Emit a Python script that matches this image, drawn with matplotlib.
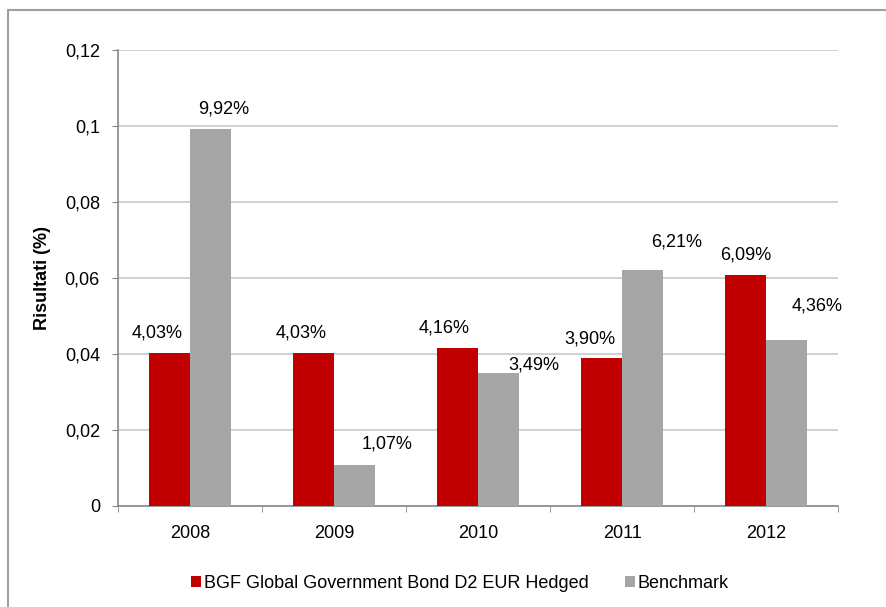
import numpy as np
import matplotlib
matplotlib.use("Agg")
from matplotlib import pyplot as plt
from matplotlib.patches import Rectangle

plt.rcParams["font.family"] = ["Liberation Sans", "DejaVu Sans"]

# Data
years = ["2008", "2009", "2010", "2011", "2012"]
fund = [0.0403, 0.0403, 0.0416, 0.0390, 0.0609]
benchmark = [0.0992, 0.0107, 0.0349, 0.0621, 0.0436]
fund_labels = ["4,03%", "4,03%", "4,16%", "3,90%", "6,09%"]
bench_labels = ["9,92%", "1,07%", "3,49%", "6,21%", "4,36%"]
yticks = [0, 0.02, 0.04, 0.06, 0.08, 0.1, 0.12]
ytick_labels = ["0", "0,02", "0,04", "0,06", "0,08", "0,1", "0,12"]
series_names = ["BGF Global Government Bond D2 EUR Hedged", "Benchmark"]

# label offsets in pixels (Excel placed some of them oddly)
fund_offsets = [(-12, 20), (-12, 20), (-13, 20), (-12, 19), (0, 20)]
bench_offsets = [(13, 20), (32, 21), (35, 8), (34, 28), (30, 34)]

red = "#C00000"
grey = "#A6A6A6"
fs = 13

fig = plt.figure(figsize=(8.87, 6.07), dpi=100)
ax = fig.add_axes([0.133, 0.1664, 0.812, 0.7512])

x = np.arange(len(years))
w = 0.285
b1 = ax.bar(x - w / 2, fund, w, color=red, zorder=3)
b2 = ax.bar(x + w / 2, benchmark, w, color=grey, zorder=3)

for bars, labels, offs in [(b1, fund_labels, fund_offsets),
                           (b2, bench_labels, bench_offsets)]:
    for bar, lab, (dx, dy) in zip(bars, labels, offs):
        ax.annotate(lab, (bar.get_x() + bar.get_width() / 2, bar.get_height()),
                    xytext=(dx * 0.72, dy * 0.72), textcoords="offset points",
                    ha="center", va="center", fontsize=fs, color="#000000")

ax.set_xlim(-0.5, len(years) - 0.5)
ax.set_ylim(0, 0.12)
ax.set_yticks(yticks)
ax.set_yticklabels(ytick_labels, fontsize=fs)
ax.set_xticks(x)
ax.set_xticklabels(years, fontsize=fs)
ax.set_xticks(np.arange(-0.5, len(years)), minor=True)
ax.tick_params(axis="x", which="major", length=0, pad=14)
ax.tick_params(axis="x", which="minor", length=4, color="#888888")
ax.tick_params(axis="y", length=4, color="#888888", pad=9)
ax.set_ylabel("Risultati (%)", fontsize=fs, fontweight="bold", labelpad=10)

ax.grid(axis="y", color="#C8C8C8", linewidth=1.2, zorder=0)
for s in ["top", "right"]:
    ax.spines[s].set_visible(False)
for s in ["left", "bottom"]:
    ax.spines[s].set_color("#888888")
    ax.spines[s].set_linewidth(1.2)

ax.legend([b1, b2], series_names, loc="center", bbox_to_anchor=(0.475, -0.17),
          ncol=2, frameon=False, fontsize=fs, handlelength=0.55, handleheight=0.55,
          handletextpad=0.15, columnspacing=2.0)

# outer frame of the chart
fig.patches.append(Rectangle((8 / 887, -0.1), 1.1, 1.1 - 10 / 607,
                             transform=fig.transFigure, fill=False,
                             edgecolor="#A0A0A0", linewidth=1.5))

fig.savefig("out.png", dpi=100)
